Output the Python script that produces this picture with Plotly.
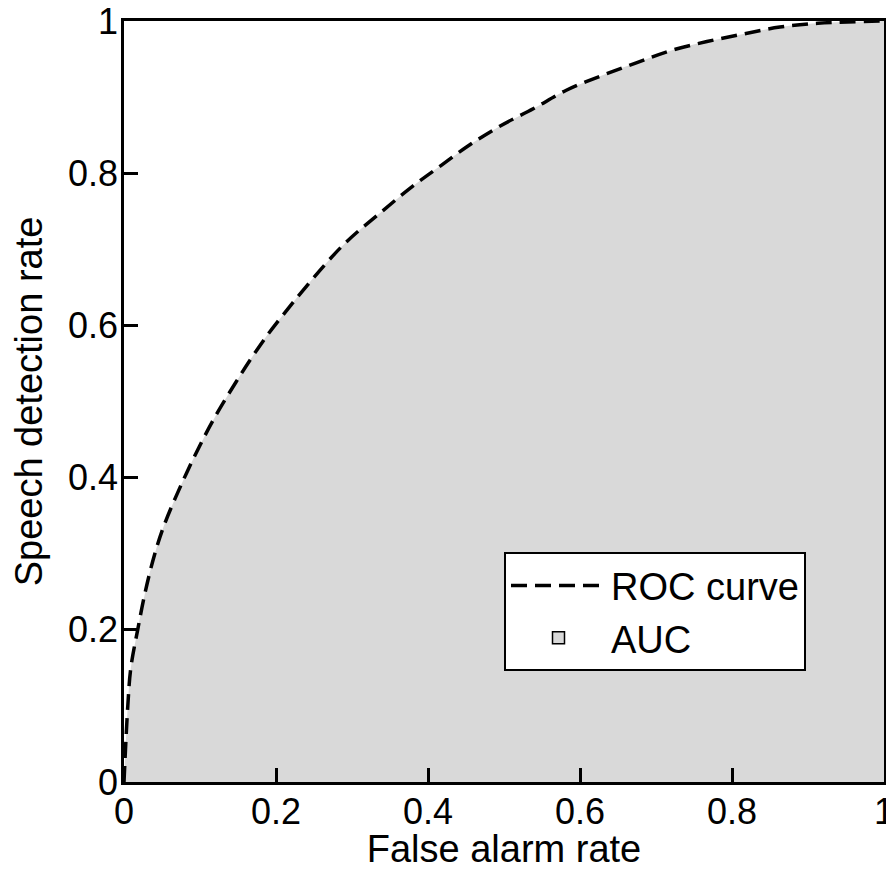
import plotly.graph_objects as go

# ROC points
false_alarm = [0.0, 0.005, 0.009, 0.018, 0.028, 0.040, 0.053, 0.075, 0.0992, 0.121,
               0.147, 0.173, 0.2015, 0.2863, 0.3385, 0.380, 0.417, 0.456, 0.495, 0.539,
               0.582, 0.628, 0.674, 0.719, 0.767, 0.815, 0.863, 0.913, 1.0]
detection = [0.0, 0.1, 0.15, 0.2, 0.25, 0.298, 0.338, 0.39, 0.441, 0.482,
             0.525, 0.565, 0.604, 0.7035, 0.749, 0.783, 0.810, 0.838, 0.862, 0.885,
             0.909, 0.928, 0.945, 0.961, 0.973, 0.983, 0.992, 0.997, 1.0]

tick_vals = [0, 0.2, 0.4, 0.6, 0.8, 1]
tick_text = ['0', '0.2', '0.4', '0.6', '0.8', '1']

gray = 'rgb(217,217,217)'
font = 'Liberation Sans, Arial, sans-serif'

fig = go.Figure()

# shaded area under the curve
fig.add_trace(go.Scatter(x=false_alarm, y=detection, mode='lines',
                         line=dict(width=0, shape='spline', smoothing=1),
                         fill='tozeroy', fillcolor=gray, showlegend=False, hoverinfo='skip'))
# dashed ROC curve
fig.add_trace(go.Scatter(x=false_alarm, y=detection, mode='lines', name='ROC curve',
                         line=dict(color='black', width=3.5, dash='16px,8px',
                                   shape='spline', smoothing=1)))
# legend entry for the area
fig.add_trace(go.Bar(x=[None], y=[None], name='AUC',
                     marker=dict(color=gray, line=dict(color='black', width=1.5))))

axis = dict(range=[0, 1], tickvals=tick_vals, ticktext=tick_text, showline=True,
            linecolor='black', linewidth=2.5, mirror=True, ticks='inside', ticklen=14,
            tickwidth=2.5, tickcolor='black', showgrid=False, zeroline=False,
            ticklabeloverflow='allow', automargin=False,
            tickfont=dict(size=36, color='black'))

fig.update_xaxes(**axis, ticklabelstandoff=-4,
                 title=dict(text='False alarm rate', font=dict(size=38, color='black'), standoff=28))
fig.update_yaxes(**axis, ticklabelstandoff=-4,
                 title=dict(text='Speech detection rate', font=dict(size=38, color='black'), standoff=50))

# the page body adds an 8px margin, so keep the figure inside the window
fig.update_layout(
    width=878, height=862,
    margin=dict(l=116, r=2, t=13, b=88),
    plot_bgcolor='white', paper_bgcolor='white',
    font=dict(family=font, color='black'),
    showlegend=True,
    legend=dict(x=0.5, y=0.302, xanchor='left', yanchor='top', bgcolor='white',
                bordercolor='black', borderwidth=2, font=dict(size=38),
                itemwidth=95, tracegroupgap=10),
)

fig.write_html("out.html")
